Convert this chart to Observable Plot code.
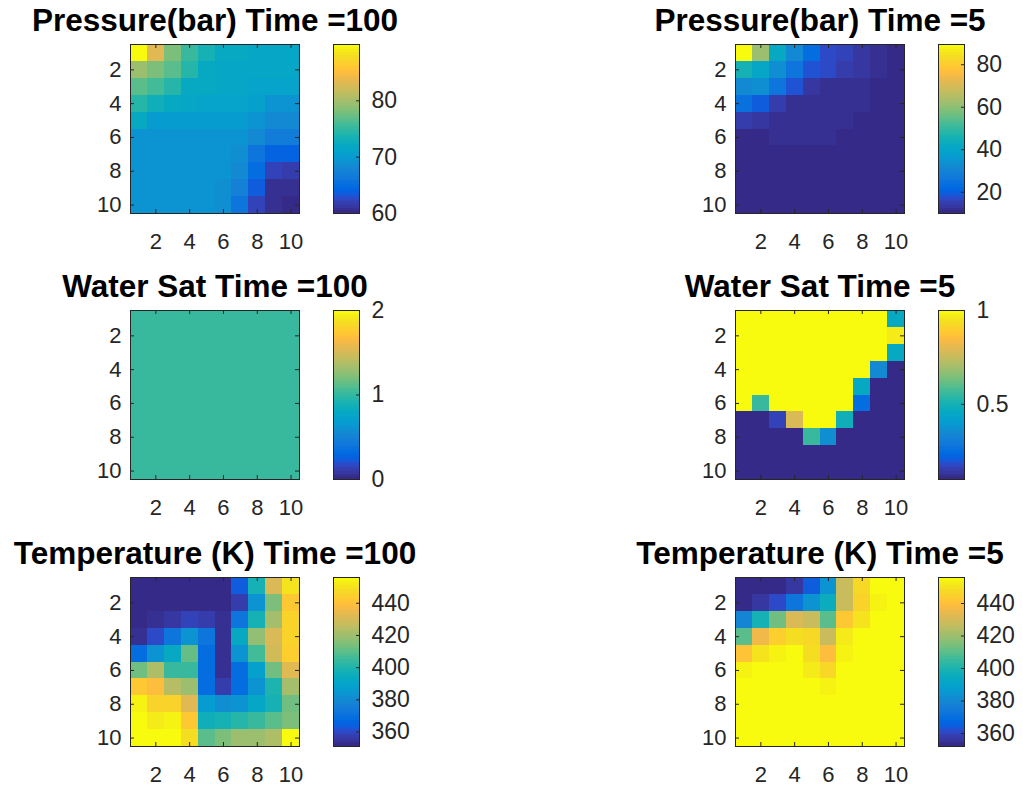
<!DOCTYPE html>
<html>
<head>
<meta charset="utf-8">
<script src="https://cdn.jsdelivr.net/npm/d3@7"></script>
<script src="https://cdn.jsdelivr.net/npm/@observablehq/plot@0.6"></script>
<style>
  body { margin: 0; background: #fff; }
  #fig { position: relative; width: 1023px; height: 797px; background: #fff; overflow: hidden; }
  #fig svg { position: absolute; max-width: none; overflow: visible; background: transparent; }
</style>
</head>
<body>
<div id="fig"></div>
<script>
// Reservoir grid snapshots (10 x 10 cells, row 1 at the top)
const gridTicks = [2, 4, 6, 8, 10];

const pressure100 = [
  [90.0, 83.1, 78.0, 75.0, 73.5, 72.0, 72.0, 71.7, 71.4, 71.4],
  [79.5, 78.0, 76.5, 74.1, 72.0, 71.7, 71.7, 71.4, 71.4, 71.4],
  [76.5, 75.6, 74.1, 72.0, 72.0, 71.4, 71.4, 71.1, 71.1, 71.1],
  [74.1, 72.9, 72.0, 71.7, 71.1, 71.1, 71.1, 70.5, 69.3, 69.0],
  [72.0, 70.2, 70.2, 70.2, 70.2, 70.2, 70.2, 69.3, 68.1, 68.1],
  [69.3, 69.3, 69.3, 69.3, 69.3, 69.3, 69.0, 68.1, 66.9, 66.6],
  [69.0, 69.0, 69.0, 69.0, 69.0, 69.0, 68.7, 66.0, 64.2, 63.9],
  [69.0, 69.0, 69.0, 69.0, 69.0, 69.0, 68.4, 65.1, 62.1, 61.8],
  [69.0, 69.0, 69.0, 69.0, 69.0, 68.7, 67.2, 63.6, 60.9, 60.6],
  [69.0, 69.0, 69.0, 69.0, 69.0, 68.7, 65.7, 62.1, 60.6, 60.0]
];

const pressure5 = [
  [89.5, 61.7, 41.8, 32.3, 23.5, 17.2, 15.6, 13.2, 11.6, 10.0],
  [45.8, 41.0, 33.1, 25.9, 18.0, 16.4, 14.0, 13.2, 11.6, 10.0],
  [32.3, 33.1, 25.9, 18.0, 13.2, 12.4, 12.4, 12.4, 11.2, 10.0],
  [24.3, 19.5, 14.0, 12.4, 11.6, 11.6, 11.6, 12.0, 10.4, 10.0],
  [14.8, 13.2, 11.6, 11.6, 11.6, 11.6, 11.6, 10.4, 10.0, 10.0],
  [10.0, 10.0, 11.6, 11.6, 11.6, 11.6, 10.0, 10.0, 10.0, 10.0],
  [10.0, 10.0, 10.0, 10.0, 10.0, 10.0, 10.0, 10.0, 10.0, 10.0],
  [10.0, 10.0, 10.0, 10.0, 10.0, 10.0, 10.0, 10.0, 10.0, 10.0],
  [10.0, 10.0, 10.0, 10.0, 10.0, 10.0, 10.0, 10.0, 10.0, 10.0],
  [10.0, 10.0, 10.0, 10.0, 10.0, 10.0, 10.0, 10.0, 10.0, 10.0]
];

const waterSat100 = [
  [1, 1, 1, 1, 1, 1, 1, 1, 1, 1],
  [1, 1, 1, 1, 1, 1, 1, 1, 1, 1],
  [1, 1, 1, 1, 1, 1, 1, 1, 1, 1],
  [1, 1, 1, 1, 1, 1, 1, 1, 1, 1],
  [1, 1, 1, 1, 1, 1, 1, 1, 1, 1],
  [1, 1, 1, 1, 1, 1, 1, 1, 1, 1],
  [1, 1, 1, 1, 1, 1, 1, 1, 1, 1],
  [1, 1, 1, 1, 1, 1, 1, 1, 1, 1],
  [1, 1, 1, 1, 1, 1, 1, 1, 1, 1],
  [1, 1, 1, 1, 1, 1, 1, 1, 1, 1]
];

const waterSat5 = [
  [1.00, 1.00, 1.00, 1.00, 1.00, 1.00, 1.00, 1.00, 1.00, 0.46],
  [1.00, 1.00, 1.00, 1.00, 1.00, 1.00, 1.00, 1.00, 1.00, 0.97],
  [1.00, 1.00, 1.00, 1.00, 1.00, 1.00, 1.00, 1.00, 1.00, 0.46],
  [1.00, 1.00, 1.00, 1.00, 1.00, 1.00, 1.00, 1.00, 0.35, 0.10],
  [1.00, 1.00, 1.00, 1.00, 1.00, 1.00, 1.00, 0.46, 0.10, 0.10],
  [1.00, 0.56, 1.00, 1.00, 1.00, 1.00, 1.00, 0.25, 0.10, 0.10],
  [0.10, 0.10, 0.16, 0.78, 1.00, 1.00, 0.49, 0.10, 0.10, 0.10],
  [0.10, 0.10, 0.10, 0.10, 0.56, 0.36, 0.10, 0.10, 0.10, 0.10],
  [0.10, 0.10, 0.10, 0.10, 0.10, 0.10, 0.10, 0.10, 0.10, 0.10],
  [0.10, 0.10, 0.10, 0.10, 0.10, 0.10, 0.10, 0.10, 0.10, 0.10]
];

const temperature100 = [
  [351.0, 351.0, 351.0, 351.0, 351.0, 351.0, 363.6, 398.3, 429.8, 450.8],
  [352.0, 352.0, 352.0, 352.0, 352.0, 352.0, 357.3, 383.6, 414.0, 441.3],
  [352.0, 354.2, 355.2, 358.4, 357.3, 353.1, 371.0, 398.3, 420.3, 445.5],
  [353.1, 359.4, 372.0, 382.5, 371.0, 354.2, 393.0, 418.2, 430.8, 445.5],
  [368.9, 383.6, 393.0, 410.9, 368.9, 353.1, 383.6, 405.6, 428.7, 443.4],
  [411.9, 422.4, 403.5, 404.6, 368.9, 354.2, 368.9, 387.8, 411.9, 431.9],
  [442.4, 438.2, 423.5, 419.3, 368.9, 357.3, 368.9, 382.5, 399.3, 420.3],
  [452.9, 445.5, 445.5, 432.9, 385.7, 381.5, 383.6, 390.9, 398.3, 413.0],
  [455.0, 451.8, 453.9, 442.4, 396.2, 397.2, 401.4, 404.6, 409.8, 414.0],
  [456.0, 456.0, 456.0, 448.7, 409.8, 414.0, 419.3, 419.3, 422.4, 456.0]
];

const temperature5 = [
  [352.0, 352.0, 353.0, 356.2, 364.5, 384.2, 426.9, 447.7, 456.0, 456.0],
  [353.0, 356.2, 360.3, 372.8, 384.2, 395.7, 427.9, 445.6, 452.9, 456.0],
  [379.0, 397.8, 413.4, 431.0, 426.9, 410.2, 442.5, 450.8, 456.0, 456.0],
  [409.2, 435.2, 443.5, 448.7, 447.7, 426.9, 451.8, 456.0, 456.0, 456.0],
  [440.4, 450.8, 452.9, 456.0, 448.7, 438.3, 453.9, 456.0, 456.0, 456.0],
  [453.9, 456.0, 456.0, 456.0, 451.8, 446.6, 456.0, 456.0, 456.0, 456.0],
  [456.0, 456.0, 456.0, 456.0, 456.0, 453.9, 456.0, 456.0, 456.0, 456.0],
  [456.0, 456.0, 456.0, 456.0, 456.0, 456.0, 456.0, 456.0, 456.0, 456.0],
  [456.0, 456.0, 456.0, 456.0, 456.0, 456.0, 456.0, 456.0, 456.0, 456.0],
  [456.0, 456.0, 456.0, 456.0, 456.0, 456.0, 456.0, 456.0, 456.0, 456.0]
];

// Colour limits and colorbar ticks for each snapshot
const titles = [
  "Pressure(bar) Time =100", "Pressure(bar) Time =5",
  "Water Sat Time =100", "Water Sat Time =5",
  "Temperature (K) Time =100", "Temperature (K) Time =5"
];
const grids = [pressure100, pressure5, waterSat100, waterSat5, temperature100, temperature5];
const colorLimits = [[60, 90], [10, 89.5], [0, 2], [0.1, 1], [351, 456], [352, 456]];
const colorbarTicks = [
  [60, 70, 80], [20, 40, 60, 80],
  [0, 1, 2], [0.5, 1],
  [360, 380, 400, 420, 440], [360, 380, 400, 420, 440]
];

// 64-entry parula colormap
const parulaRGB = [
  [0.2081,0.1663,0.5292],[0.2116,0.1898,0.5777],[0.2123,0.2138,0.6270],[0.2081,0.2386,0.6771],
  [0.1959,0.2645,0.7279],[0.1707,0.2919,0.7792],[0.1253,0.3242,0.8303],[0.0591,0.3598,0.8683],
  [0.0117,0.3875,0.8820],[0.0060,0.4086,0.8828],[0.0165,0.4266,0.8786],[0.0329,0.4430,0.8720],
  [0.0498,0.4586,0.8641],[0.0629,0.4737,0.8554],[0.0723,0.4887,0.8467],[0.0779,0.5040,0.8384],
  [0.0793,0.5200,0.8312],[0.0749,0.5375,0.8263],[0.0641,0.5570,0.8240],[0.0488,0.5772,0.8228],
  [0.0343,0.5966,0.8199],[0.0265,0.6137,0.8135],[0.0239,0.6287,0.8038],[0.0231,0.6418,0.7913],
  [0.0228,0.6535,0.7768],[0.0267,0.6642,0.7607],[0.0384,0.6743,0.7436],[0.0590,0.6838,0.7254],
  [0.0843,0.6928,0.7062],[0.1133,0.7015,0.6859],[0.1453,0.7098,0.6646],[0.1801,0.7177,0.6424],
  [0.2178,0.7250,0.6193],[0.2586,0.7317,0.5954],[0.3022,0.7376,0.5712],[0.3482,0.7424,0.5473],
  [0.3953,0.7459,0.5244],[0.4420,0.7481,0.5033],[0.4871,0.7491,0.4840],[0.5300,0.7491,0.4661],
  [0.5709,0.7485,0.4494],[0.6099,0.7473,0.4337],[0.6473,0.7456,0.4188],[0.6834,0.7435,0.4044],
  [0.7184,0.7411,0.3905],[0.7525,0.7384,0.3768],[0.7858,0.7356,0.3633],[0.8185,0.7327,0.3498],
  [0.8507,0.7299,0.3360],[0.8824,0.7274,0.3217],[0.9139,0.7258,0.3063],[0.9450,0.7261,0.2886],
  [0.9739,0.7314,0.2666],[0.9938,0.7455,0.2403],[0.9990,0.7653,0.2164],[0.9955,0.7861,0.1967],
  [0.9880,0.8066,0.1794],[0.9789,0.8271,0.1633],[0.9697,0.8481,0.1475],[0.9626,0.8705,0.1309],
  [0.9589,0.8949,0.1132],[0.9598,0.9218,0.0948],[0.9661,0.9514,0.0755],[0.9763,0.9831,0.0538]
];
const parula = parulaRGB.map(([r, g, b]) => d3.rgb(r * 255, g * 255, b * 255).formatHex());
const N = parula.length;
// stepped lookup, one flat colour per colormap entry
const parulaStep = (t) => parula[Math.max(0, Math.min(N - 1, Math.floor(t * N)))];

// Layout of the 3 x 2 grid of axes
const FONT = "'Liberation Sans', Arial, Helvetica, sans-serif";
const AX_W = 169, AX_H = 169, CB_W = 26;
const axLeft = [130, 735];
const cbLeft = [333, 938];
const axTop = [44, 310, 577];
const axisColor = "#262626";
const fig = document.getElementById("fig");

function place(svg, left, top) {
  svg.style.left = left + "px";
  svg.style.top = top + "px";
  fig.appendChild(svg);
}

function colorScale(domain) {
  return { type: "linear", domain, interpolate: parulaStep, clamp: true };
}

grids.forEach((grid, k) => {
  const col = k % 2, row = Math.floor(k / 2);
  const domain = colorLimits[k];
  const cells = grid.flatMap((r, i) => r.map((value, j) => ({ row: i + 1, col: j + 1, value })));

  // heat map
  const ML = 140, MR = 140, MT = 60, MB = 50;
  const heat = Plot.plot({
    width: ML + AX_W + MR, height: MT + AX_H + MB,
    marginLeft: ML, marginRight: MR, marginTop: MT, marginBottom: MB,
    style: { fontFamily: FONT, fontSize: "22px", color: axisColor, background: "transparent", overflow: "visible" },
    x: { type: "linear", domain: [0.5, 10.5] },
    y: { type: "linear", domain: [10.5, 0.5] },
    color: colorScale(domain),
    marks: [
      Plot.rect(cells, {
        x1: (d) => d.col - 0.5, x2: (d) => d.col + 0.5,
        y1: (d) => d.row - 0.5, y2: (d) => d.row + 0.5,
        fill: "value", shapeRendering: "crispEdges"
      }),
      Plot.frame({ stroke: axisColor, strokeWidth: 1 }),
      // inward tick marks on all four sides
      Plot.tickX(gridTicks, { x: (d) => d, insetTop: AX_H - 4, stroke: axisColor }),
      Plot.tickX(gridTicks, { x: (d) => d, insetBottom: AX_H - 4, stroke: axisColor }),
      Plot.tickY(gridTicks, { y: (d) => d, insetRight: AX_W - 4, stroke: axisColor }),
      Plot.tickY(gridTicks, { y: (d) => d, insetLeft: AX_W - 4, stroke: axisColor }),
      Plot.axisX(gridTicks, { anchor: "bottom", tickSize: 0, tickPadding: 20, fontSize: 22, tickFormat: (d) => String(d), label: null }),
      Plot.axisY(gridTicks, { anchor: "left", tickSize: 0, tickPadding: 9, fontSize: 22, tickFormat: (d) => String(d), label: null }),
      Plot.text([titles[k]], {
        text: (d) => d, frameAnchor: "top", dy: -14, lineAnchor: "bottom",
        fontSize: 31.5, fontWeight: "bold", fill: "#000"
      })
    ]
  });
  place(heat, axLeft[col] - ML, axTop[row] - MT);

  // colorbar
  const [lo, hi] = domain;
  const bands = d3.range(N).map((i) => ({ v0: lo + (hi - lo) * i / N, v1: lo + (hi - lo) * (i + 1) / N }));
  const cML = 2, cMR = 80, cMT = 20, cMB = 20;
  const bar = Plot.plot({
    width: cML + CB_W + cMR, height: cMT + AX_H + cMB,
    marginLeft: cML, marginRight: cMR, marginTop: cMT, marginBottom: cMB,
    style: { fontFamily: FONT, fontSize: "22px", color: axisColor, background: "transparent", overflow: "visible" },
    y: { domain: [lo, hi] },
    color: colorScale(domain),
    marks: [
      Plot.rect(bands, { y1: "v0", y2: "v1", fill: (d) => (d.v0 + d.v1) / 2, shapeRendering: "crispEdges" }),
      Plot.frame({ stroke: axisColor, strokeWidth: 1 }),
      Plot.tickY(colorbarTicks[k], { y: (d) => d, insetLeft: CB_W - 3, stroke: axisColor }),
      Plot.axisY(colorbarTicks[k], { anchor: "right", tickSize: 0, tickPadding: 12, fontSize: 23, tickFormat: (d) => String(d), label: null })
    ]
  });
  place(bar, cbLeft[col] - cML, axTop[row] - cMT);
});
</script>
</body>
</html>
